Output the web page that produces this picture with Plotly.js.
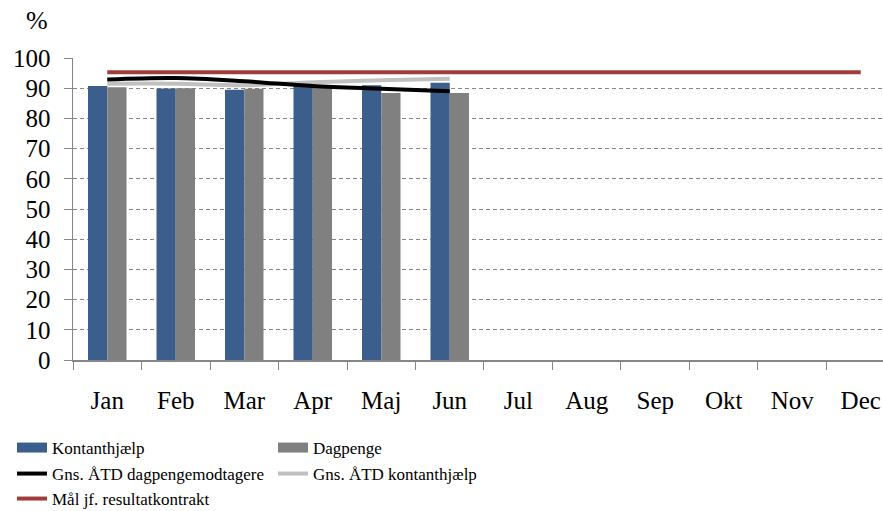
<!DOCTYPE html>
<html>
<head>
<meta charset="utf-8">
<script src="https://cdn.plot.ly/plotly-3.0.1.min.js"></script>
<style>
html,body{margin:0;padding:0;background:#fff;}
</style>
</head>
<body>
<div id="chart" style="width:883px;height:511px;"></div>
<script>
const months = ["Jan","Feb","Mar","Apr","Maj","Jun","Jul","Aug","Sep","Okt","Nov","Dec"];
const monthsData = ["Jan","Feb","Mar","Apr","Maj","Jun"];
const kontanthjaelp = [90.7, 89.9, 89.5, 91.0, 91.0, 91.8];
const dagpenge = [90.3, 90.0, 89.8, 90.2, 88.4, 88.4];
const gnsDagpenge = [92.9, 93.4, 92.3, 90.7, 89.8, 89.0];
const gnsKontant = [91.5, 91.5, 91.0, 92.0, 92.6, 93.1];
const maal = [95.3, 95.3, 95.3, 95.3, 95.3, 95.3, 95.3, 95.3, 95.3, 95.3, 95.3, 95.3];

const serif = "'Liberation Serif', 'Times New Roman', serif";
const axisGray = "#868686";
const blue = "#3B5E8C", gray = "#808080";

const traces = [
  {type:"bar", name:"Kontanthjælp", x:monthsData, y:kontanthjaelp, marker:{color:blue}, showlegend:false},
  {type:"bar", name:"Dagpenge", x:monthsData, y:dagpenge, marker:{color:gray}, showlegend:false},
  {type:"scatter", mode:"lines", name:"Gns. ÅTD kontanthjælp", x:monthsData, y:gnsKontant, line:{color:"#C0C0C0", width:4, shape:"spline"}, legend:"legend4"},
  {type:"scatter", mode:"lines", name:"Gns. ÅTD dagpengemodtagere", x:monthsData, y:gnsDagpenge, line:{color:"#000000", width:4, shape:"spline"}, legend:"legend3"},
  {type:"scatter", mode:"lines", name:"Mål jf. resultatkontrakt", x:months, y:maal, line:{color:"#A03C3A", width:4}, legend:"legend5"},
  // legend-only entries for the bar series (wide rectangle swatches)
  {type:"scatter", mode:"lines", name:"Kontanthjælp", x:[null], y:[null], line:{color:blue, width:10}, legend:"legend", hoverinfo:"skip"},
  {type:"scatter", mode:"lines", name:"Dagpenge", x:[null], y:[null], line:{color:gray, width:10}, legend:"legend2", hoverinfo:"skip"}
];

// plot area: x 73..883 (810 px), y 58..360 (302 px)
const px = v => (v-73)/810;
const py = v => (360-v)/302;
const legFont = {family:serif, size:17};
function leg(x, yc){
  return {x:px(x), y:py(yc), xanchor:"left", yanchor:"middle", orientation:"v", bgcolor:"rgba(0,0,0,0)", borderwidth:0, font:legFont};
}
const col1 = 12, col2 = 273;
const layout = {
  width:883, height:511,
  margin:{l:73, r:0, t:58, b:151, autoexpand:false},
  paper_bgcolor:"#ffffff", plot_bgcolor:"#ffffff",
  font:{family:serif, size:22, color:"#000"},
  barmode:"group", bargap:0.438, bargroupgap:0,
  xaxis:{type:"category", categoryorder:"array", categoryarray:months, automargin:false,
    range:[-0.5, 11.325], tickson:"boundaries", ticks:"outside", ticklen:8, tickcolor:axisGray, tickwidth:1,
    showline:true, linecolor:axisGray, linewidth:1.5, showgrid:false, zeroline:false,
    ticklabelstandoff:17, tickfont:{family:serif, size:25}},
  yaxis:{range:[0,100], dtick:10, tick0:0, ticks:"outside", ticklen:8, tickcolor:axisGray, automargin:false,
    showline:true, linecolor:axisGray, linewidth:1.5, showgrid:true, gridcolor:axisGray, griddash:"4px,3px", gridwidth:1,
    zeroline:false, ticklabelstandoff:8, tickfont:{family:serif, size:25}},
  annotations:[{text:"%", xref:"paper", yref:"paper", x:px(37), y:py(21), xanchor:"center", yanchor:"middle", showarrow:false, font:{family:serif, size:26}}],
  legend:leg(col1, 448),
  legend2:leg(col2, 448),
  legend3:leg(col1, 474),
  legend4:leg(col2, 474),
  legend5:leg(col1, 499),
  showlegend:true
};

Plotly.newPlot("chart", traces, layout, {displayModeBar:false, staticPlot:true});
</script>
</body>
</html>
